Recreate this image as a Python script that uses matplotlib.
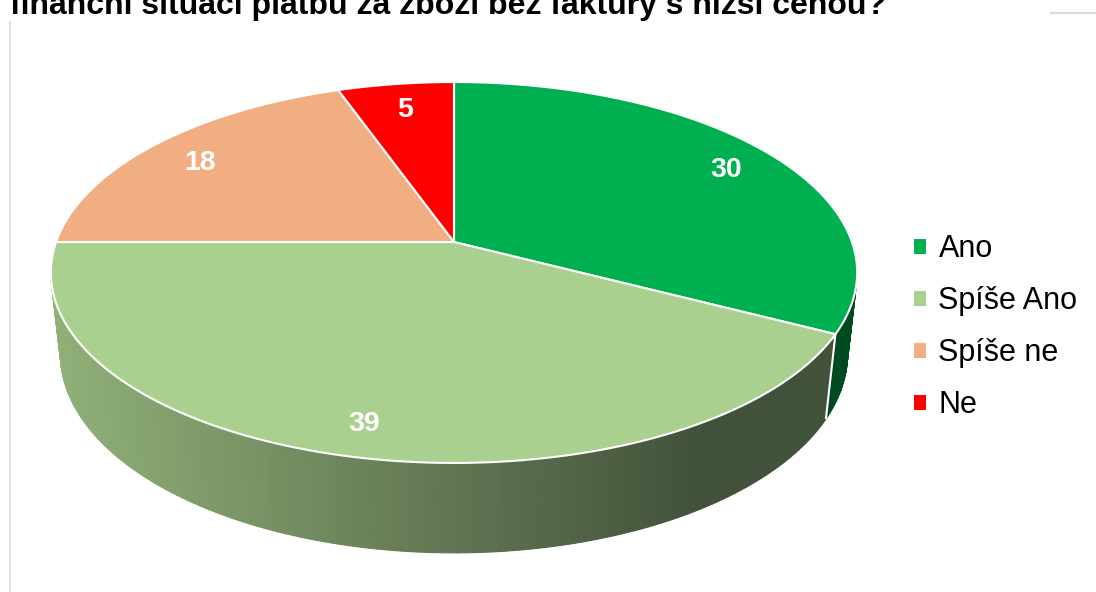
import numpy as np
import matplotlib
matplotlib.use('Agg')
import matplotlib.pyplot as plt
from matplotlib.patches import Polygon, Patch
from matplotlib.colors import to_rgb

# ---------------- data ----------------
categories = ['Ano', 'Spíše Ano', 'Spíše ne', 'Ne']
values = [30, 39, 18, 5]
title_text = 'finanční situaci platbu za zboží bez faktury s nižší cenou?'

# ---------------- styles ----------------
top_colors = ['#00B050', '#A9D08E', '#F0AE82', '#FF0000']
side_light = ['#00652C', '#90B078', '#C98A5E', '#D00000']
side_dark = ['#004A1F', '#42513A', '#7A4E30', '#900000']
FONT = ['Liberation Sans', 'DejaVu Sans']

W, H = 1096, 592
fig = plt.figure(figsize=(W / 100, H / 100), dpi=100)
ax = fig.add_axes([0, 0, 1, 1])
ax.set_xlim(0, W)
ax.set_ylim(H, 0)
ax.axis('off')

# ---------------- 3D projection ----------------
cx, cy = 454, 242
alpha = np.radians(30)
D = 5.41
Kx, Ky = 2153, 2008
depth = 0.258
sa, ca = np.sin(alpha), np.cos(alpha)


def project(x, y, z):
    yp = y * ca + z * sa
    zp = -y * sa + z * ca
    return cx + Kx * x / (D + zp), cy - Ky * yp / (D + zp)


def lerp_color(c1, c2, t):
    a, b = np.array(to_rgb(c1)), np.array(to_rgb(c2))
    return tuple(a + (b - a) * t)


vals = np.array(values, dtype=float)
frac = vals / vals.sum()
bounds = 90 - 360 * np.concatenate([[0], np.cumsum(frac)])  # math degrees, clockwise

# ---- side walls (segments sorted far -> near) ----
segs = []
for i in range(len(values)):
    t0, t1 = bounds[i], bounds[i + 1]
    n = max(4, int(abs(t1 - t0) / 1.0))
    th = np.radians(np.linspace(t0, t1, n + 1))
    for k in range(n):
        a0, a1 = th[k], th[k + 1]
        zmid = np.sin((a0 + a1) / 2)
        segs.append((zmid, i, a0, a1))
segs.sort(key=lambda s: -s[0])
for zmid, i, a0, a1 in segs:
    if zmid > 0.3:
        continue
    xs0, zs0 = np.cos(a0), np.sin(a0)
    xs1, zs1 = np.cos(a1), np.sin(a1)
    p = [project(xs0, 0, zs0), project(xs1, 0, zs1),
         project(xs1, -depth, zs1), project(xs0, -depth, zs0)]
    xm = np.mean([q[0] for q in p])
    t = np.clip((xm - 60) / (700 - 60), 0, 1)
    col = lerp_color(side_light[i], side_dark[i], t)
    ax.add_patch(Polygon(p, closed=True, facecolor=col, edgecolor=col,
                         lw=0.8, zorder=1))

# white vertical seams between slices on the visible front wall
for b in bounds[1:-1]:
    a = np.radians(b)
    if np.sin(a) < 0:
        x0, z0 = np.cos(a), np.sin(a)
        p1 = project(x0, 0, z0)
        p2 = project(x0, -depth, z0)
        ax.plot([p1[0], p2[0]], [p1[1], p2[1]], color='white', lw=1.5,
                zorder=2, solid_capstyle='butt')

# ---- top surfaces ----
for i in range(len(values)):
    th = np.radians(np.linspace(bounds[i], bounds[i + 1], 200))
    pts = [project(0, 0, 0)] + [project(np.cos(a), 0, np.sin(a)) for a in th]
    ax.add_patch(Polygon(pts, closed=True, facecolor=top_colors[i],
                         edgecolor='white', lw=1.5, joinstyle='round', zorder=3))

# ---- data labels ----
rho = 0.85
for i, v in enumerate(values):
    mid = np.radians((bounds[i] + bounds[i + 1]) / 2)
    lx, ly = project(rho * np.cos(mid), 0, rho * np.sin(mid))
    ax.text(lx + 2, ly + 5, f'{v}', color='white', fontsize=20.5,
            fontweight='bold', family=FONT, ha='center', va='center', zorder=5)

# ---- title (cropped at top, as in the reference) ----
ax.text(10, 14, title_text, fontsize=23, fontweight='bold', family=FONT,
        ha='left', va='baseline', color='black', zorder=6)

# ---- chart-area border remnants ----
ax.plot([10, 10], [22, H], color='#D9D9D9', lw=1.2, zorder=0)
ax.plot([1051, W], [13, 13], color='#D9D9D9', lw=1.5, zorder=0)

# ---- legend ----
handles = [Patch(facecolor=c, edgecolor='none') for c in top_colors]
fig.legend(handles, categories, loc='center left',
           bbox_to_anchor=(914 / W, 1 - 327 / H), frameon=False,
           prop={'family': FONT, 'size': 22}, handlelength=0.38,
           handleheight=0.38, handletextpad=0.42, labelspacing=0.72,
           borderpad=0, borderaxespad=0)

fig.savefig('out.png', dpi=100)
